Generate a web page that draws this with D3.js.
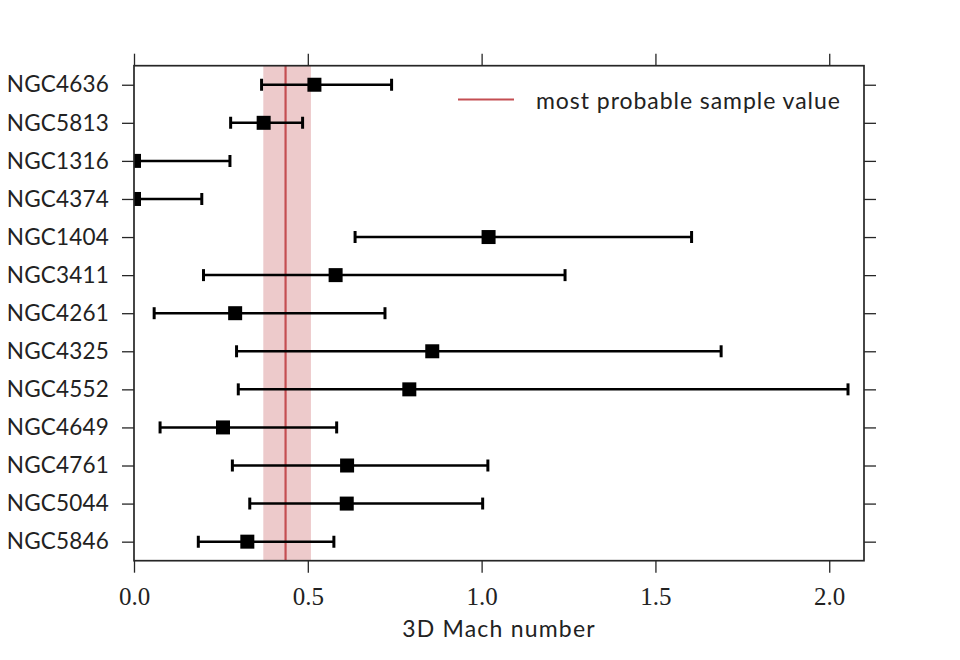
<!DOCTYPE html>
<html>
<head>
<meta charset="utf-8">
<script src="https://cdn.jsdelivr.net/npm/d3@7"></script>
<style>
  html, body { margin: 0; padding: 0; background: #fff; }
  svg { display: block; }
</style>
</head>
<body>
<svg id="chart" width="960" height="660"></svg>
<script>
// ---- data ----
const galaxies = ["NGC4636","NGC5813","NGC1316","NGC4374","NGC1404","NGC3411","NGC4261",
                  "NGC4325","NGC4552","NGC4649","NGC4761","NGC5044","NGC5846"];
const machValue = [0.519, 0.373, 0.0, 0.0, 1.020, 0.580, 0.291, 0.858, 0.792, 0.256, 0.613, 0.612, 0.326];
const machLow   = [0.367, 0.278, 0.0, 0.0, 0.636, 0.200, 0.058, 0.295, 0.300, 0.075, 0.283, 0.333, 0.185];
const machHigh  = [0.741, 0.485, 0.276, 0.195, 1.604, 1.240, 0.722, 1.689, 2.054, 0.583, 1.018, 1.003, 0.575];
const sampleValue = 0.436;
const sampleBand = [0.372, 0.509];
const xTicks = [0.0, 0.5, 1.0, 1.5, 2.0];
const xDomain = [0, 2.1];
const xLabel = "3D Mach number";
const legendLabel = "most probable sample value";

// ---- layout ----
const svg = d3.select("#chart");
const L = 134, R = 864, T = 65.7, B = 560.7;
const frameColor = "#262626";
const textColor = "#222";
const redColor = "#c44e52";
const sansFont = "Lato, 'DejaVu Sans', sans-serif";

const x = d3.scaleLinear().domain(xDomain).range([L, R]);
const y = d3.scalePoint().domain(galaxies).range([T, B]).padding(0.5);

svg.append("defs").append("clipPath").attr("id", "plotclip")
  .append("rect").attr("x", L).attr("y", T).attr("width", R - L).attr("height", B - T);

const plot = svg.append("g").attr("clip-path", "url(#plotclip)");

// band + line
plot.append("rect")
  .attr("x", x(sampleBand[0])).attr("width", x(sampleBand[1]) - x(sampleBand[0]))
  .attr("y", T).attr("height", B - T)
  .attr("fill", redColor).attr("fill-opacity", 0.3);
plot.append("line")
  .attr("x1", x(sampleValue)).attr("x2", x(sampleValue))
  .attr("y1", T).attr("y2", B)
  .attr("stroke", redColor).attr("stroke-width", 2.2);

const rows = galaxies.map((g, i) => ({ name: g, v: machValue[i], lo: machLow[i], hi: machHigh[i] }));

const eb = plot.selectAll("g.eb").data(rows).enter().append("g").attr("class", "eb");
eb.append("line")
  .attr("x1", d => x(d.lo)).attr("x2", d => x(d.hi))
  .attr("y1", d => y(d.name)).attr("y2", d => y(d.name))
  .attr("stroke", "#000").attr("stroke-width", 2.5);
["lo", "hi"].forEach(k => {
  eb.append("line")
    .attr("x1", d => x(d[k])).attr("x2", d => x(d[k]))
    .attr("y1", d => y(d.name) - 6).attr("y2", d => y(d.name) + 6)
    .attr("stroke", "#000").attr("stroke-width", 3);
});
const ms = 14;
eb.append("rect")
  .attr("x", d => x(d.v) - ms / 2).attr("y", d => y(d.name) - ms / 2)
  .attr("width", ms).attr("height", ms).attr("fill", "#000");

// axes
function styleAxis(g) {
  g.select(".domain").remove();
  g.selectAll(".tick line").attr("stroke", frameColor).attr("stroke-width", 1.3);
}
const tickLen = 12;
svg.append("g").attr("transform", `translate(0,${B})`)
  .call(d3.axisBottom(x).tickValues(xTicks).tickSize(tickLen).tickPadding(15).tickFormat(d3.format(".1f")))
  .call(styleAxis)
  .call(g => g.selectAll("text").attr("font-family", "'Liberation Serif', 'DejaVu Serif', serif")
      .attr("font-size", 25).attr("fill", textColor));
svg.append("g").attr("transform", `translate(0,${T})`)
  .call(d3.axisTop(x).tickValues(xTicks).tickSize(tickLen).tickFormat(""))
  .call(styleAxis);
svg.append("g").attr("transform", `translate(${L},0)`)
  .call(d3.axisLeft(y).tickSize(tickLen).tickPadding(13))
  .call(styleAxis)
  .call(g => g.selectAll("text").attr("font-family", sansFont)
      .attr("font-size", 22.5).attr("letter-spacing", 0.2).attr("fill", textColor));
svg.append("g").attr("transform", `translate(${R},0)`)
  .call(d3.axisRight(y).tickSize(tickLen).tickFormat(""))
  .call(styleAxis);

// frame
svg.append("rect").attr("x", L).attr("y", T).attr("width", R - L).attr("height", B - T)
  .attr("fill", "none").attr("stroke", frameColor).attr("stroke-width", 1.7);

// x label
svg.append("text").attr("x", (L + R) / 2).attr("y", 637)
  .attr("text-anchor", "middle")
  .attr("font-family", sansFont).attr("font-size", 23).attr("letter-spacing", 1.2)
  .attr("fill", textColor).text(xLabel);

// legend
const lg = svg.append("g");
lg.append("line").attr("x1", 458).attr("x2", 514).attr("y1", 99.5).attr("y2", 99.5)
  .attr("stroke", redColor).attr("stroke-width", 2.2);
lg.append("text").attr("x", 536).attr("y", 108.5)
  .attr("font-family", sansFont).attr("font-size", 23).attr("letter-spacing", 0.95)
  .attr("fill", textColor).text(legendLabel);
</script>
</body>
</html>
